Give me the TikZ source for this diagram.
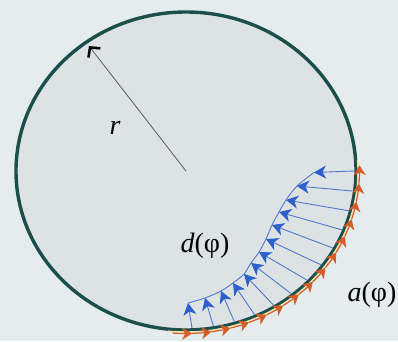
\documentclass[tikz,border=0pt]{standalone}
\usepackage{fontspec}
\setmainfont{Liberation Serif}
\usetikzlibrary{arrows.meta}
\definecolor{bgcol}{RGB}{228,236,238}
\definecolor{fillcol}{RGB}{221,226,229}
\definecolor{ringcol}{RGB}{28,78,74}
\definecolor{bluecol}{RGB}{45,95,205}
\definecolor{blueline}{RGB}{80,120,205}
\definecolor{orangecol}{RGB}{214,92,40}
\definecolor{creamcol}{RGB}{238,226,170}
\tikzset{
  ring/.style={draw=ringcol, line width=3.4pt, fill=fillcol},
  radius line/.style={draw=black!65, line width=0.8pt,
    -{Straight Barb[length=7pt,width=15pt,line width=2.6pt,color=black]}},
  darrow/.style={draw=blueline, line width=0.9pt,
    -{Stealth[length=12pt,width=13pt,inset=3.5pt,color=bluecol]}},
  dcurve/.style={draw=blueline, line width=0.9pt},
  aarrow/.style={draw=orangecol, line width=1.2pt,
    -{Stealth[length=10pt,width=12pt,inset=3pt,color=orangecol]}},
  aline/.style={draw=creamcol, line width=1.4pt},
  lab/.style={font=\fontsize{28}{32}\selectfont, inner sep=0pt}
}
\begin{document}
\begin{tikzpicture}[x=1pt,y=-1pt]
\useasboundingbox (0,0) rectangle (398,341);
\fill[bgcol] (0,0) rectangle (398,341);
\coordinate (O) at (186,171);
\path[ring] (O) ellipse [x radius=170, y radius=159];
% radius
\coordinate (rtip) at (89,46);
\draw[radius line] (O) -- (rtip);
\node[lab] (r) at (115,128) {\textit{r}};
% d(phi) heads
\coordinate (h1) at (314,172.5);
\coordinate (h2) at (297,186);
\coordinate (h3) at (286,200);
\coordinate (h4) at (279,212);
\coordinate (h5) at (272,225);
\coordinate (h6) at (266,239);
\coordinate (h7) at (259,252);
\coordinate (h8) at (251,263);
\coordinate (h9) at (244,274);
\coordinate (h10) at (233,283);
\coordinate (h11) at (221,291);
\coordinate (h12) at (205,298);
\coordinate (h13) at (188,303);
\foreach \k in {1,...,13}{
  \pgfmathsetmacro\t{7.33*(\k-1)}
  \path (O) ++ ({168*cos(\t)},{157*sin(\t)}) coordinate (t\k);
}
\draw[dcurve] plot[smooth] coordinates {(h1) (h2) (h3) (h4) (h5) (h6) (h7) (h8) (h9) (h10) (h11) (h12) (h13)};
\foreach \k in {1,...,13}{
  \draw[darrow] (t\k) -- (h\k);
}
% a(phi) chain
\path (O) ++ ({172*cos(96)},{161*sin(96)}) coordinate (cs);
\draw[aline] (cs) arc[start angle=96, end angle=-4, x radius=172, y radius=161];
\foreach \j in {0,...,14}{
  \pgfmathsetmacro\e{88-6.43*\j}
  \pgfmathsetmacro\s{\e+6.43}
  \path (O) ++ ({173.5*cos(\s)},{162.5*sin(\s)}) coordinate (a\j);
  \draw[aarrow] (a\j) arc[start angle=\s, end angle=\e, x radius=173.5, y radius=162.5];
}
\node[lab] (d) at (205,246) {\textit{d}(φ)};
\node[lab] (a) at (372,295) {\textit{a}(φ)};
\end{tikzpicture}
\end{document}
